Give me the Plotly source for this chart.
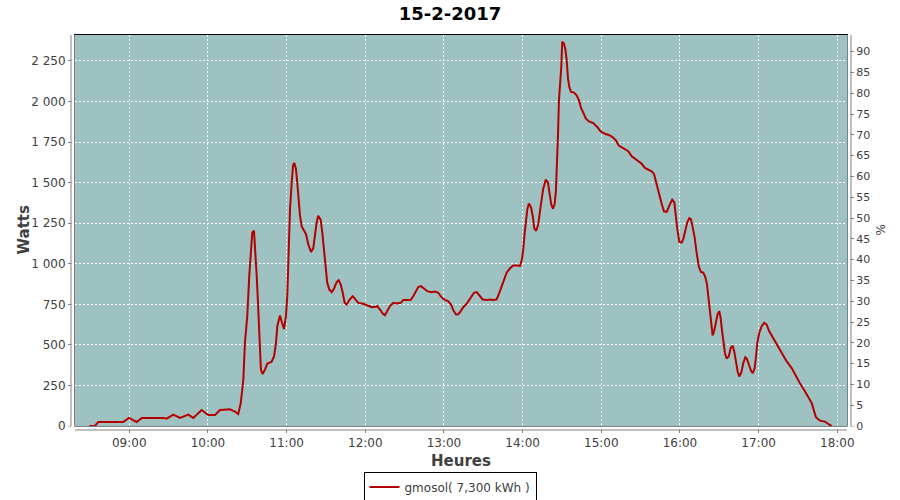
import datetime as dt
import plotly.graph_objects as go

# minutes since midnight (15-2-2017)
minutes = [509.5, 513.8, 516.4, 535.4, 539.8, 545.6, 549.5, 565.9, 568.5, 573.6,
           578.7, 585.0, 588.8, 595.2, 600.3, 605.4, 609.2, 616.8, 620.6, 623.1,
           625.0, 627.0, 628.2, 630.0, 631.5, 632.6, 633.8, 635.1, 636.1, 637.2,
           638.4, 639.7, 640.4, 641.7, 643.5, 645.2, 648.6, 650.4, 651.9, 652.9,
           654.9, 656.5, 658.0, 659.5, 660.5, 661.6, 662.6, 663.9, 664.9, 665.8,
           667.1, 668.1, 669.2, 670.2, 671.5, 673.2, 674.8, 676.5, 678.6, 680.3,
           681.6, 682.9, 684.1, 686.0, 687.2, 688.5, 690.0, 691.0, 692.5, 694.4,
           696.1, 698.2, 699.7, 701.2, 702.8, 704.3, 705.8, 707.8, 710.4, 712.1,
           714.7, 718.5, 722.3, 724.9, 728.2, 729.1, 731.2, 733.3, 735.0, 736.8,
           738.8, 741.4, 743.9, 747.0, 749.0, 751.6, 754.6, 756.6, 758.7, 760.4,
           762.5, 764.8, 767.3, 770.1, 773.2, 775.7, 777.5, 780.0, 783.3, 785.4,
           787.1, 789.2, 790.9, 792.8, 794.7, 797.3, 799.3, 801.1, 802.9, 805.0,
           806.9, 809.5, 812.6, 815.1, 817.6, 820.2, 822.2, 824.0, 825.8, 827.8,
           830.4, 832.9, 835.5, 838.0, 839.5, 840.5, 841.6, 842.6, 843.6, 844.8,
           846.4, 847.7, 848.9, 850.4, 851.9, 853.8, 855.7, 857.6, 859.3, 860.6,
           861.9, 863.2, 864.4, 865.4, 866.2, 867.0, 867.7, 868.7, 869.5, 870.2,
           871.5, 872.5, 873.6, 874.6, 875.6, 876.9, 879.2, 881.2, 883.0, 884.5,
           886.3, 888.3, 890.6, 893.9, 896.9, 899.5, 902.8, 906.6, 909.1, 911.2,
           913.3, 915.5, 918.1, 920.6, 923.2, 925.7, 928.2, 930.8, 933.3, 935.8,
           938.4, 940.2, 941.7, 942.7, 944.2, 946.1, 947.8, 949.9, 951.8, 954.1,
           955.7, 956.7, 958.0, 959.5, 961.3, 962.5, 964.1, 965.6, 967.1, 968.4,
           969.7, 971.2, 972.7, 974.3, 976.0, 977.8, 979.3, 980.6, 981.6, 982.7,
           983.7, 984.9, 986.2, 987.5, 988.8, 990.0, 991.0, 992.0, 993.0, 994.3,
           995.6, 997.2, 998.7, 1000.2, 1001.4, 1002.7, 1004.0, 1005.2, 1006.8, 1008.3,
           1009.8, 1011.1, 1012.6, 1014.2, 1015.5, 1017.0, 1018.0, 1019.0, 1020.5, 1022.3,
           1024.3, 1026.1, 1028.1, 1030.7, 1033.8, 1037.6, 1041.4, 1045.2, 1048.5, 1051.5,
           1054.6, 1057.9, 1060.5, 1062.2, 1063.7, 1066.8, 1070.6, 1072.4, 1074.4, 1075.7]

watts = [0, 0, 25, 25, 50, 25, 50, 50, 45, 70,
         50, 70, 50, 99, 68, 68, 99, 103, 89, 74,
         140, 285, 512, 677, 924, 1089, 1193, 1203, 1089, 924,
         718, 512, 347, 320, 347, 384, 396, 429, 512, 615,
         681, 636, 598, 677, 800, 1089, 1337, 1502, 1605, 1622,
         1585, 1502, 1388, 1296, 1230, 1203, 1182, 1120, 1073, 1094,
         1182, 1254, 1296, 1271, 1193, 1089, 986, 883, 842, 825,
         846, 887, 899, 873, 821, 759, 749, 776, 800, 784,
         759, 753, 743, 732, 735, 739, 718, 693, 683, 708,
         739, 759, 755, 759, 776, 776, 776, 800, 837, 856,
         862, 846, 831, 825, 829, 821, 800, 780, 768, 749,
         714, 687, 689, 708, 732, 753, 776, 800, 821, 825,
         805, 780, 776, 780, 776, 780, 821, 862, 904, 945,
         972, 990, 990, 986, 1028, 1089, 1193, 1275, 1337, 1372,
         1347, 1296, 1218, 1203, 1244, 1357, 1461, 1518, 1502, 1430,
         1364, 1339, 1368, 1450, 1595, 1801, 2007, 2111, 2214, 2369,
         2358, 2327, 2255, 2142, 2090, 2059, 2055, 2038, 2007, 1962,
         1925, 1894, 1877, 1867, 1843, 1816, 1801, 1791, 1777, 1760,
         1729, 1719, 1708, 1694, 1663, 1647, 1636, 1616, 1591, 1578,
         1570, 1554, 1502, 1481, 1419, 1368, 1323, 1320, 1357, 1395,
         1378, 1296, 1213, 1135, 1131, 1151, 1213, 1255, 1281, 1275,
         1224, 1162, 1069, 986, 949, 945, 920, 873, 800, 729,
         636, 559, 590, 646, 691, 708, 667, 594, 512, 450,
         415, 429, 481, 495, 460, 388, 336, 305, 330, 388,
         423, 413, 378, 340, 326, 357, 429, 512, 574, 615,
         636, 625, 584, 549, 501, 454, 398, 357, 305, 264,
         223, 178, 141, 95, 54, 33, 27, 17, 4, 0]

title_text = "15-2-2017"
series_name = "gmosol( 7,300 kWh )"
x_title = "Heures"
y_title = "Watts"
y2_title = "%"

base = dt.datetime(2017, 2, 15)
times = [base + dt.timedelta(minutes=m) for m in minutes]

GRAY = "#808080"
TXT = "#404040"
FONT = "DejaVu Sans"

fig = go.Figure()
fig.add_trace(go.Scatter(x=times, y=watts, mode="lines", name=series_name,
                         line=dict(color="#B40000", width=2), showlegend=True))
# empty companion trace so that the right-hand percentage axis is drawn
fig.add_trace(go.Scatter(x=[None], y=[None], yaxis="y2", mode="lines",
                         showlegend=False, hoverinfo="skip"))

W_PX, H_PX = 772, 391
gx = 4 / W_PX
gy = 4 / H_PX

shapes = [
    dict(type="rect", xref="paper", yref="paper", x0=-3.5 / W_PX, x1=-0.5 / W_PX, y0=-0.02, y1=1.0,
         fillcolor="white", line=dict(width=0), layer="above"),
    dict(type="rect", xref="paper", yref="paper", x0=1 + 0.5 / W_PX, x1=1 + 3.5 / W_PX, y0=-0.02, y1=1.0,
         fillcolor="white", line=dict(width=0), layer="above"),
    dict(type="rect", xref="paper", yref="paper", x0=-0.01, x1=1.01, y0=-3.5 / H_PX, y1=-0.5 / H_PX,
         fillcolor="white", line=dict(width=0), layer="above"),
    dict(type="line", xref="paper", yref="paper", x0=-gx, x1=-gx, y0=0, y1=1,
         line=dict(color=GRAY, width=1), layer="above"),
    dict(type="line", xref="paper", yref="paper", x0=1 + gx, x1=1 + gx, y0=0, y1=1,
         line=dict(color=GRAY, width=1), layer="above"),
    dict(type="line", xref="paper", yref="paper", x0=0, x1=1, y0=-gy, y1=-gy,
         line=dict(color=GRAY, width=1), layer="above"),
]

annotations = [
    dict(text="<b>" + y_title + "</b>", xref="paper", yref="paper",
         x=(23 - 75) / W_PX, y=0.5, xanchor="center", yanchor="middle",
         textangle=-90, showarrow=False, font=dict(family=FONT, size=15, color=TXT)),
    dict(text=y2_title, xref="paper", yref="paper",
         x=(880 - 75) / W_PX, y=0.5, xanchor="center", yanchor="middle",
         textangle=-90, showarrow=False, font=dict(family=FONT, size=12, color=TXT)),
]

fig.update_layout(
    width=900, height=500,
    margin=dict(l=75, r=53, t=35, b=74, pad=0, autoexpand=False),
    paper_bgcolor="white",
    plot_bgcolor="#9EC2C2",
    separators=", ",
    font=dict(family=FONT, size=12, color=TXT),
    title=dict(text="<b>" + title_text + "</b>", x=0.5, xref="container", xanchor="center",
               y=1 - 14 / 500, yref="container", yanchor="middle",
               font=dict(family=FONT, size=18, color="black")),
    xaxis=dict(
        type="date",
        range=[base + dt.timedelta(minutes=498.6), base + dt.timedelta(minutes=1087.4)],
        tickformat="%H:%M", dtick=3600000, tick0=base + dt.timedelta(hours=9),
        showgrid=True, gridcolor="white", gridwidth=1, griddash="2px,2px",
        showline=True, linecolor="black", linewidth=1, mirror=True,
        ticks="outside", ticklen=6, tickcolor=GRAY, tickwidth=1,
        tickfont=dict(family=FONT, size=12, color=TXT),
        title=dict(text="<b>" + x_title + "</b>", font=dict(family=FONT, size=15, color=TXT), standoff=6),
        zeroline=False, automargin=False,
    ),
    yaxis=dict(
        range=[0, 2410], dtick=250, tick0=0,
        separatethousands=True,
        showgrid=True, gridcolor="white", gridwidth=1, griddash="2px,2px",
        showline=True, linecolor="black", linewidth=1, mirror=True,
        ticks="outside", ticklen=6, tickcolor=GRAY, tickwidth=1,
        tickfont=dict(family=FONT, size=12, color=TXT),
        zeroline=False, automargin=False,
    ),
    yaxis2=dict(
        overlaying="y", side="right", anchor="x",
        range=[0, 94], dtick=5, tick0=0,
        showgrid=False, zeroline=False, showline=False,
        ticks="outside", ticklen=6, tickcolor=GRAY, tickwidth=1,
        tickfont=dict(family=FONT, size=11, color=TXT),
        automargin=False,
    ),
    legend=dict(
        orientation="h", xref="container", yref="container",
        x=0.5, xanchor="center", y=1 - 487 / 500, yanchor="middle",
        bgcolor="white", bordercolor="black", borderwidth=1,
        font=dict(family=FONT, size=12, color=TXT),
        itemwidth=30,
    ),
    shapes=shapes,
    annotations=annotations,
    showlegend=True,
)

fig.write_html("out.html", post_script="document.body.style.margin='0';",
               config={"displayModeBar": False})
